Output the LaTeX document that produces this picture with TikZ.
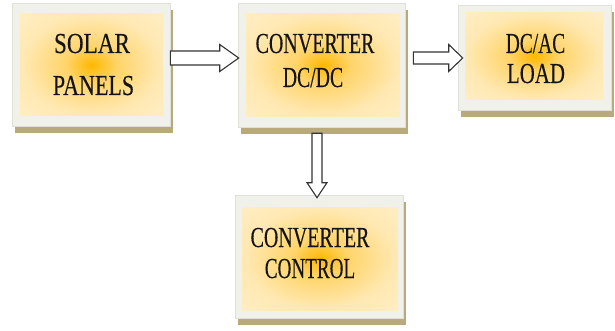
\documentclass[tikz,border=0pt]{standalone}
\usepackage{fontspec}
\setmainfont{Liberation Serif}
\usepackage{graphicx}
\usetikzlibrary{calc}
\definecolor{framegray}{HTML}{F1F1EC}
\definecolor{frameline}{HTML}{E0E0DA}
\definecolor{shadowtan}{HTML}{B8AA7D}
\definecolor{glowA}{HTML}{FDB800}
\definecolor{glowB}{HTML}{FFD46A}
\definecolor{glowC}{HTML}{FFE8B2}
\definecolor{glowD}{HTML}{FFF4DA}
\definecolor{arrowline}{HTML}{333333}
\definecolor{txt}{HTML}{141414}
\pgfdeclareradialshading{boxglow}{\pgfpoint{0bp}{0bp}}{color(0bp)=(glowA); color(9bp)=(glowB); color(24bp)=(glowC); color(50bp)=(glowD)}
\tikzset{
  frame/.style={draw=frameline, fill=framegray, line width=0.6pt, inner sep=0pt,
    preaction={fill=shadowtan, transform canvas={xshift=3pt,yshift=-7pt}}},
  glow/.style={shading=boxglow, inner sep=0pt},
  label/.style={anchor=base, inner sep=0pt, text=txt,
    font=\fontsize{29}{29}\selectfont\addfontfeature{FakeBold=0.3}},
  barrow/.style={draw=arrowline, fill=white, line width=1.1pt, line join=miter}
}
\begin{document}
\begin{tikzpicture}[x=1pt,y=-1pt]
\useasboundingbox (0,0) rectangle (615,331);
% boxes
\node[frame, minimum width=158pt, minimum height=123pt] (b1) at (91,64.5) {};
\node[glow, minimum width=143pt, minimum height=102pt] (b1in) at (91.5,65) {};
\node[frame, minimum width=167pt, minimum height=124pt] (b2) at (321.5,65) {};
\node[glow, minimum width=154pt, minimum height=103pt] (b2in) at (323,65.5) {};
\node[frame, minimum width=153pt, minimum height=105pt] (b3) at (534.5,57.5) {};
\node[glow, minimum width=138pt, minimum height=87pt] (b3in) at (534,56.5) {};
\node[frame, minimum width=168pt, minimum height=123pt] (b4) at (319,256.5) {};
\node[glow, minimum width=156pt, minimum height=103pt] (b4in) at (320,258.5) {};
% texts
\node[label] (t1a) at (92,53) {\scalebox{0.80}[1]{SOLAR}};
\node[label] (t1b) at (93.5,95) {\scalebox{0.76}[1]{PANELS}};
\node[label] (t2a) at (315,53) {\scalebox{0.69}[1]{CONVERTER}};
\node[label] (t2b) at (313,87) {\scalebox{0.68}[1]{DC/DC}};
\node[label] (t3a) at (535.5,53) {\scalebox{0.67}[1]{DC/AC}};
\node[label] (t3b) at (536,83) {\scalebox{0.72}[1]{LOAD}};
\node[label] (t4a) at (310,247) {\scalebox{0.69}[1]{CONVERTER}};
\node[label] (t4b) at (310,278) {\scalebox{0.66}[1]{CONTROL}};
% arrow end points
\coordinate (a1t) at ($(b1.east)+(0,-6.5)$);
\coordinate (a1h) at ($(b2.west)+(1,-7)$);
\coordinate (a2t) at ($(b2.east)+(8,-7)$);
\coordinate (a2h) at ($(b3.west)+(5,0.5)$);
\coordinate (a3t) at ($(b2.south)+(-4.5,6)$);
\coordinate (a3h) at ($(b4.north)+(-2,3)$);
% block arrows
\draw[barrow] ($(a1t)+(0,-7)$) -- ($(a1h)+(-19,-7)$) -- ($(a1h)+(-19,-13.5)$) -- (a1h)
  -- ($(a1h)+(-19,13.5)$) -- ($(a1h)+(-19,7)$) -- ($(a1t)+(0,7)$) -- cycle;
\draw[barrow] ($(a2t)+(0,-6)$) -- ($(a2h)+(-14,-6)$) -- ($(a2h)+(-14,-13.5)$) -- (a2h)
  -- ($(a2h)+(-14,13.5)$) -- ($(a2h)+(-14,6)$) -- ($(a2t)+(0,6)$) -- cycle;
\draw[barrow] ($(a3t)+(-5,0)$) -- ($(a3h)+(-5,-15)$) -- ($(a3h)+(-10,-15)$) -- (a3h)
  -- ($(a3h)+(10,-15)$) -- ($(a3h)+(5,-15)$) -- ($(a3t)+(5,0)$) -- cycle;
\end{tikzpicture}
\end{document}
